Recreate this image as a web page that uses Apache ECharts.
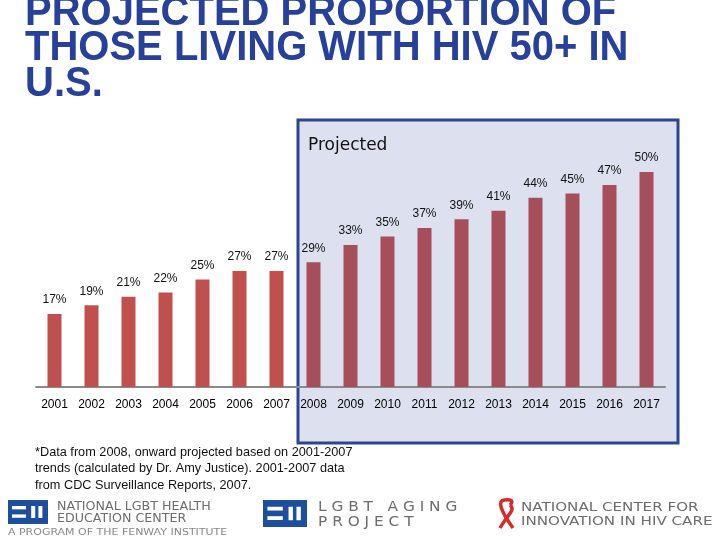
<!DOCTYPE html>
<html>
<head>
<meta charset="utf-8">
<script src="https://cdn.jsdelivr.net/npm/echarts@6/dist/echarts.min.js"></script>
<style>
  html, body { margin: 0; padding: 0; background: #fff; }
  #chart { width: 720px; height: 540px; }
</style>
</head>
<body>
<div id="chart"></div>
<script>
const years = ['2001', '2002', '2003', '2004', '2005', '2006', '2007', '2008', '2009',
  '2010', '2011', '2012', '2013', '2014', '2015', '2016', '2017'];
const values = [17, 19, 21, 22, 25, 27, 27, 29, 33, 35, 37, 39, 41, 44, 45, 47, 50];
const firstProjected = '2008';
const titleLines = ['PROJECTED PROPORTION OF', 'THOSE LIVING WITH HIV 50+ IN', 'U.S.'];
const noteLines = [
  '*Data from 2008, onward projected based on 2001-2007',
  'trends (calculated by Dr. Amy Justice). 2001-2007 data',
  'from CDC Surveillance Reports, 2007.'
];

const chart = echarts.init(document.getElementById('chart'));
const projIdx = years.indexOf(firstProjected);

const navy = '#27409a';
const grey = '#6d6d6d';

// little "E II" style logo block
const logo = (x, y, w, h) => ({
  type: 'group', x: x, y: y,
  children: [
    { type: 'rect', shape: { x: 0, y: 0, width: w, height: h }, style: { fill: '#1d4f9e' } },
    { type: 'rect', shape: { x: w * 0.1, y: h * 0.25, width: w * 0.35, height: h * 0.14 }, style: { fill: '#fff' } },
    { type: 'rect', shape: { x: w * 0.1, y: h * 0.6, width: w * 0.35, height: h * 0.14 }, style: { fill: '#fff' } },
    { type: 'rect', shape: { x: w * 0.58, y: h * 0.25, width: w * 0.1, height: h * 0.5 }, style: { fill: '#fff' } },
    { type: 'rect', shape: { x: w * 0.76, y: h * 0.25, width: w * 0.1, height: h * 0.5 }, style: { fill: '#fff' } }
  ]
});

const txt = (x, y, s, font, color, sx, sy) => ({
  type: 'text', x: x, y: y, scaleX: sx || 1, scaleY: sy || 1,
  style: { text: s, font: font, fill: color, verticalAlign: 'middle' }
});

const ribbon = { stroke: '#d52b2b', lineWidth: 3.5, fill: 'none' };

const graphics = [
  {
    type: 'rect', z: -10,
    shape: { x: 298, y: 120, width: 380, height: 323 },
    style: { fill: '#dde1ef', stroke: '#2b4590', lineWidth: 3 }
  },
  txt(308, 146, 'Projected', '17px "DejaVu Sans"', '#111'),
  logo(8, 500, 40, 24),
  txt(57, 507, 'NATIONAL LGBT HEALTH', '11px "DejaVu Sans"', grey, 1.15, 1.05),
  txt(57, 519, 'EDUCATION CENTER', '11px "DejaVu Sans"', grey, 1.15, 1.05),
  txt(8, 533, 'A PROGRAM OF THE FENWAY INSTITUTE', '9px "DejaVu Sans"', '#888', 1.22, 1.05),
  logo(263, 500, 44, 27),
  txt(318, 507, 'L G B T   A G I N G', '13px "DejaVu Sans"', grey, 1.18, 1.05),
  txt(318, 522, 'P R O J E C T', '13px "DejaVu Sans"', grey, 1.18, 1.05),
  {
    type: 'bezierCurve',
    shape: { x1: 500, y1: 528, x2: 510, y2: 505, cpx1: 508, cpy1: 514, cpx2: 516, cpy2: 510 },
    style: ribbon
  },
  {
    type: 'bezierCurve',
    shape: { x1: 513, y1: 528, x2: 505, y2: 500, cpx1: 500, cpy1: 510, cpx2: 497, cpy2: 500 },
    style: ribbon
  },
  {
    type: 'bezierCurve',
    shape: { x1: 505, y1: 500, x2: 510, y2: 505, cpx1: 513, cpy1: 499, cpx2: 513, cpy2: 502 },
    style: ribbon
  },
  txt(521, 508, 'NATIONAL CENTER FOR', '12px "DejaVu Sans"', grey, 1.26, 1.05),
  txt(521, 522, 'INNOVATION IN HIV CARE', '12px "DejaVu Sans"', grey, 1.26, 1.05)
];

titleLines.forEach((s, i) => {
  graphics.push(txt(25, 13 + i * 35.5, s, 'bold 40px "Liberation Sans"', navy, 1.0, 1.07));
});
noteLines.forEach((s, i) => {
  graphics.push(txt(35, 452 + i * 16.5, s, '12px "Liberation Sans"', '#111', 1.06, 1.12));
});

chart.setOption({
  animation: false,
  grid: { left: 36, right: 55, top: 172, bottom: 153 },
  xAxis: {
    type: 'category',
    data: years,
    axisLine: { lineStyle: { color: '#8a8a8a', width: 2 } },
    axisTick: { length: 5, lineStyle: { color: '#8a8a8a', width: 2 } },
    axisLabel: {
      margin: 12, color: '#000',
      fontFamily: 'Liberation Sans', fontSize: 12
    }
  },
  yAxis: { type: 'value', min: 0, max: 50, show: false, splitLine: { show: false } },
  graphic: graphics,
  series: [
    {
      type: 'bar',
      barWidth: 14,
      data: values.map((v, i) => ({
        value: v,
        itemStyle: { color: i >= projIdx ? '#a64f5b' : '#c0504d' }
      })),
      label: {
        show: true, position: 'top', distance: 8,
        formatter: '{c}%', color: '#111',
        fontFamily: 'Liberation Sans', fontSize: 12
      }
    }
  ]
});
</script>
</body>
</html>
